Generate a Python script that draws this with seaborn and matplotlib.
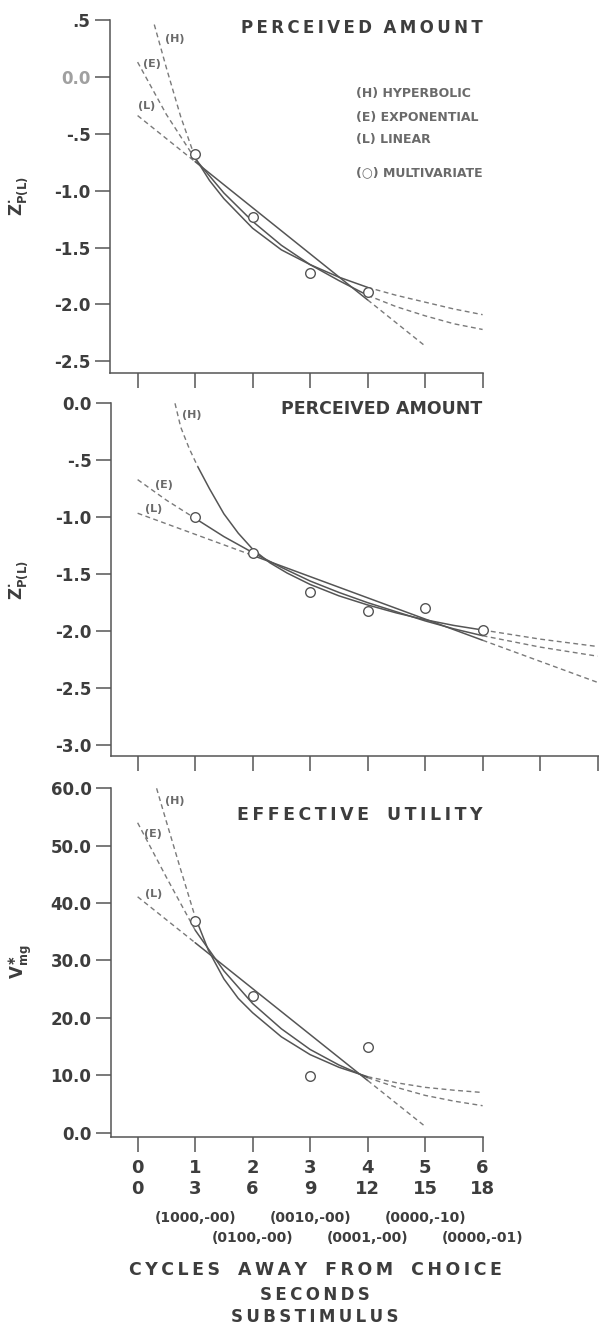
import numpy as np
import pandas as pd
import matplotlib
matplotlib.use('Agg')
import matplotlib.pyplot as plt
import matplotlib.transforms as mtrans
import seaborn as sns

# ---- panel 1: perceived amount (cycles 1-4 observed) ----
p1_obs_x = [1, 2, 3, 4]
p1_obs_y = [-0.68, -1.23, -1.72, -1.89]
p1_hyp_x = [0.29, 0.5, 0.75, 1.0, 1.25, 1.5, 2.0, 2.5, 3.0, 3.5, 4.0, 4.5, 5.0, 5.5, 6.0]
p1_hyp_y = [0.46, 0.08, -0.35, -0.71, -0.91, -1.07, -1.33, -1.52, -1.65, -1.76, -1.85, -1.92, -1.98, -2.04, -2.09]
p1_exp_x = [0, 0.5, 1, 1.5, 2, 2.5, 3, 3.5, 4, 4.5, 5, 5.5, 6]
p1_exp_y = [0.13, -0.33, -0.72, -1.02, -1.27, -1.48, -1.65, -1.79, -1.92, -2.02, -2.10, -2.17, -2.22]
p1_lin_x = [0, 1, 4, 5]
p1_lin_y = [-0.34, -0.745, -1.96, -2.365]
p1_fit = (1, 4)
p1_yticks = [0.5, 0.0, -0.5, -1.0, -1.5, -2.0, -2.5]
p1_ylabels = ['.5', '0.0', '-.5', '-1.0', '-1.5', '-2.0', '-2.5']

# ---- panel 2: perceived amount (cycles 1-6 observed) ----
p2_obs_x = [1, 2, 3, 4, 5, 6]
p2_obs_y = [-1.00, -1.31, -1.66, -1.82, -1.80, -1.99]
p2_hyp_x = [0.65, 0.75, 0.9, 1.05, 1.25, 1.5, 1.75, 2.0, 2.3, 2.6, 3.0, 3.5, 4.0, 4.5, 5.0, 5.5, 6.0, 7.0, 8.0]
p2_hyp_y = [0.0, -0.21, -0.40, -0.56, -0.75, -0.97, -1.14, -1.28, -1.40, -1.49, -1.59, -1.69, -1.77, -1.84, -1.90, -1.95, -1.99, -2.07, -2.135]
p2_exp_x = [0, 0.5, 1, 1.5, 2, 2.5, 3, 3.5, 4, 4.5, 5, 5.5, 6, 6.5, 7, 7.5, 8]
p2_exp_y = [-0.67, -0.85, -1.01, -1.17, -1.31, -1.44, -1.56, -1.66, -1.75, -1.83, -1.91, -1.98, -2.04, -2.09, -2.14, -2.18, -2.22]
p2_lin_x = [0, 2, 6, 8]
p2_lin_y = [-0.965, -1.335, -2.08, -2.45]
p2_hyp_fit = (1.05, 6)
p2_exp_fit = (1, 6)
p2_lin_fit = (2, 6)
p2_yticks = [0.0, -0.5, -1.0, -1.5, -2.0, -2.5, -3.0]
p2_ylabels = ['0.0', '-.5', '-1.0', '-1.5', '-2.0', '-2.5', '-3.0']

# ---- panel 3: effective utility ----
p3_obs_x = [1, 2, 3, 4]
p3_obs_y = [36.8, 23.9, 9.8, 15.0]
p3_hyp_x = [0.33, 0.5, 0.75, 1.0, 1.23, 1.5, 1.75, 2.0, 2.5, 3.0, 3.5, 4.0, 4.5, 5.0, 5.5, 6.0]
p3_hyp_y = [60.0, 54.2, 45.8, 37.6, 31.8, 26.8, 23.4, 20.9, 16.7, 13.6, 11.4, 9.75, 8.7, 7.9, 7.4, 7.0]
p3_exp_x = [0, 0.5, 1, 1.5, 2, 2.5, 3, 3.5, 4, 4.5, 5, 5.5, 6]
p3_exp_y = [54.0, 44.5, 35.3, 28.2, 22.5, 18.1, 14.5, 11.8, 9.6, 7.9, 6.5, 5.5, 4.7]
p3_lin_x = [0, 1, 4, 5]
p3_lin_y = [41.1, 33.1, 9.1, 1.1]
p3_fit = (1, 4)
p3_yticks = [0, 10, 20, 30, 40, 50, 60]
p3_ylabels = ['0.0', '10.0', '20.0', '30.0', '40.0', '50.0', '60.0']

cycles = [0, 1, 2, 3, 4, 5, 6]
seconds = [0, 3, 6, 9, 12, 15, 18]
substim_odd = ['(1000,-00)', '(0010,-00)', '(0000,-10)']
substim_even = ['(0100,-00)', '(0001,-00)', '(0000,-01)']

W, H = 599, 1325
INK = '#3d3d3d'
LINE = '#555555'
DASHC = '#7a7a7a'
SOFT = '#6a6a6a'

sns.set_theme(style='ticks')
plt.rcParams['font.family'] = ['DejaVu Sans']
plt.rcParams['font.weight'] = 'bold'
plt.rcParams['mathtext.default'] = 'bf'


def spaced(s, gap=2):
    # fake letter spacing with thin spaces
    return (' ' * gap).join('\u2009'.join(w) for w in s.split())


def px_axes(fig, left, right, top, bottom):
    return fig.add_axes([left / W, 1 - bottom / H, (right - left) / W, (bottom - top) / H])


def draw_fit(ax, xs, ys, lo, hi):
    df = pd.DataFrame({'x': xs, 'y': ys})
    dash = dict(color=DASHC, linewidth=1.0, linestyle=(0, (3.5, 2.5)))
    solid = dict(color=LINE, linewidth=1.1, linestyle='-')
    parts = [(df[df.x <= lo], dash), (df[(df.x >= lo) & (df.x <= hi)], solid), (df[df.x >= hi], dash)]
    for part, style in parts:
        if len(part) > 1:
            sns.lineplot(data=part, x='x', y='y', ax=ax, sort=False, estimator=None, **style)


def style_axes(ax, xticks, yticks, ylabels):
    sns.despine(ax=ax)
    for s in ['left', 'bottom']:
        ax.spines[s].set_color(LINE)
        ax.spines[s].set_linewidth(1.1)
    ax.set_xticks(xticks)
    ax.set_xticklabels([])
    ax.set_yticks(yticks)
    ax.set_yticklabels(ylabels)
    ax.tick_params(axis='both', direction='out', length=11, width=1.1, color=LINE,
                   labelcolor=INK, labelsize=12, pad=3)
    ax.set_xlabel('')
    ax.set_ylabel('')
    ax.set_facecolor('white')


def observed(ax, xs, ys):
    sns.scatterplot(x=xs, y=ys, ax=ax, s=48, color='white', edgecolor=LINE,
                    linewidth=1.0, zorder=5)


def curve_tags(ax, pos):
    for tag, (x, y) in zip(['(H)', '(E)', '(L)'], pos):
        ax.text(x, y, tag, fontsize=8, color=SOFT, ha='center', va='center')


fig = plt.figure(figsize=(W / 100, H / 100), dpi=100)
fig.patch.set_facecolor('white')

# panel 1
ax1 = px_axes(fig, 110, 482.6, 20, 372.7)
draw_fit(ax1, p1_hyp_x, p1_hyp_y, *p1_fit)
draw_fit(ax1, p1_exp_x, p1_exp_y, *p1_fit)
draw_fit(ax1, p1_lin_x, p1_lin_y, *p1_fit)
observed(ax1, p1_obs_x, p1_obs_y)
ax1.set_xlim(-0.48, 6.0)
ax1.set_ylim(-2.6, 0.5)
style_axes(ax1, cycles, p1_yticks, p1_ylabels)
ax1.get_yticklabels()[1].set_color('#a0a0a0')
ax1.text(6.0, 0.43, spaced('PERCEIVED AMOUNT'), fontsize=12, color=INK, ha='right', va='center')
legend_rows = ['(H) HYPERBOLIC', '(E) EXPONENTIAL', '(L) LINEAR', '(\u25cb) MULTIVARIATE']
for txt, yy in zip(legend_rows, [-0.143, -0.354, -0.547, -0.846]):
    ax1.text(3.79, yy, txt, fontsize=9, color=SOFT, ha='left', va='center')
curve_tags(ax1, [(0.65, 0.33), (0.25, 0.11), (0.16, -0.26)])

# panel 2
ax2 = px_axes(fig, 111, 599, 403.3, 756)
draw_fit(ax2, p2_hyp_x, p2_hyp_y, *p2_hyp_fit)
draw_fit(ax2, p2_exp_x, p2_exp_y, *p2_exp_fit)
draw_fit(ax2, p2_lin_x, p2_lin_y, *p2_lin_fit)
observed(ax2, p2_obs_x, p2_obs_y)
ax2.set_xlim(-0.463, 8.024)
ax2.set_ylim(-3.096, 0.0)
style_axes(ax2, list(range(0, 9)), p2_yticks, p2_ylabels)
ax2.text(6.0, -0.05, 'PERCEIVED AMOUNT', fontsize=12.5, color=INK, ha='right', va='center')
curve_tags(ax2, [(0.94, -0.10), (0.45, -0.715), (0.27, -0.93)])

# panel 3
ax3 = px_axes(fig, 111, 482.6, 788.3, 1136.7)
draw_fit(ax3, p3_hyp_x, p3_hyp_y, *p3_fit)
draw_fit(ax3, p3_exp_x, p3_exp_y, *p3_fit)
draw_fit(ax3, p3_lin_x, p3_lin_y, *p3_fit)
observed(ax3, p3_obs_x, p3_obs_y)
ax3.set_xlim(-0.463, 6.0)
ax3.set_ylim(-0.7, 60)
style_axes(ax3, cycles, p3_yticks, p3_ylabels)
ax3.set_xticklabels([f'{c}\n{s}' for c, s in zip(cycles, seconds)])
ax3.tick_params(axis='x', labelsize=13, pad=5)
for lbl in ax3.get_xticklabels():
    lbl.set_linespacing(1.25)
ax3.text(6.0, 55.3, spaced('EFFECTIVE UTILITY', gap=3), fontsize=12.5, color=INK, ha='right', va='center')
curve_tags(ax3, [(0.65, 57.8), (0.27, 52.0), (0.27, 41.6)])

blend = mtrans.blended_transform_factory(ax3.transData, fig.transFigure)
for x, txt in zip([1, 3, 5], substim_odd):
    ax3.text(x, 1 - 1217.7 / H, txt, transform=blend, fontsize=10, color=INK, ha='center', va='center')
for x, txt in zip([2, 4, 6], substim_even):
    ax3.text(x, 1 - 1238.3 / H, txt, transform=blend, fontsize=10, color=INK, ha='center', va='center')

# y labels
ylab_kw = dict(rotation=90, ha='center', va='center', color=INK, fontsize=12)
fig.text(19 / W, 1 - 196 / H, r'$Z^{\bullet}_{P(L)}$', **ylab_kw)
fig.text(19 / W, 1 - 580 / H, r'$Z^{\bullet}_{P(L)}$', **ylab_kw)
fig.text(21 / W, 1 - 962 / H, r'$V^{\ast}_{mg}$', **ylab_kw)

# x axis captions
fig.text(315 / W, 1 - 1270 / H, spaced('CYCLES AWAY FROM CHOICE', gap=3), fontsize=12.5,
         color=INK, ha='center', va='center')
fig.text(315 / W, 1 - 1295 / H, spaced('SECONDS'), fontsize=12,
         color=INK, ha='center', va='center')
fig.text(315 / W, 1 - 1317 / H, spaced('SUBSTIMULUS'), fontsize=12,
         color=INK, ha='center', va='center')

fig.savefig('out.png', dpi=100, facecolor='white')
